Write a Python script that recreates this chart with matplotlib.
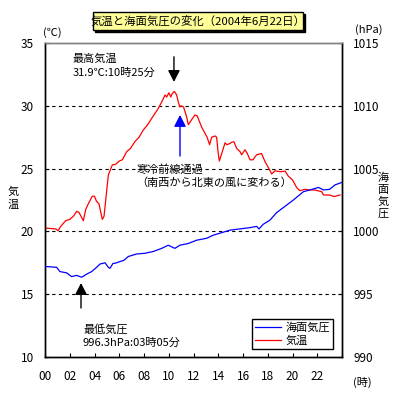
import matplotlib
matplotlib.use("Agg")
import matplotlib.pyplot as plt
from matplotlib.patches import Rectangle

plt.rcParams["font.family"] = ["Noto Sans CJK JP", "DejaVu Sans"]
plt.rcParams["font.size"] = 8

# hourly readings (hour of day, value)
temp_hours = [0.0, 0.2, 0.86, 1.05, 1.27, 1.67, 2.0, 2.29, 2.56, 2.75, 3.1, 3.29, 3.5, 3.82,
              4.0, 4.16, 4.36, 4.63, 4.77, 4.96, 5.12, 5.44, 5.71, 6.0, 6.25, 6.6, 6.9, 7.27,
              7.6, 7.94, 8.3, 8.62, 9.16, 9.43, 9.7, 9.83, 10.02, 10.16, 10.3, 10.45, 10.64,
              10.77, 10.9, 11.0, 11.2, 11.45, 11.58, 11.85, 12.12, 12.3, 12.66, 13.1, 13.3,
              13.47, 13.74, 13.87, 14.0, 14.09, 14.28, 14.55, 14.7, 14.95, 15.1, 15.27, 15.49,
              15.76, 15.89, 16.16, 16.35, 16.57, 16.8, 17.1, 17.5, 17.78, 18.13, 18.32, 18.59,
              19.0, 19.4, 19.66, 20.0, 20.33, 20.6, 21.0, 21.4, 21.8, 22.36, 22.5, 23.0, 23.35,
              23.84]
temp_values = [20.25, 20.25, 20.2, 20.05, 20.4, 20.85, 20.96, 21.2, 21.6, 21.5, 20.85, 21.75,
               22.2, 22.8, 22.8, 22.4, 22.2, 20.96, 21.2, 23.0, 24.5, 25.3, 25.34, 25.6, 25.7,
               26.35, 26.6, 27.15, 27.5, 28.07, 28.5, 29.0, 29.8, 30.3, 30.86, 30.7, 31.04, 30.7,
               31.0, 31.15, 30.86, 30.3, 29.9, 30.0, 29.9, 29.1, 28.5, 28.9, 29.27, 29.2, 28.3,
               27.5, 26.9, 27.5, 27.6, 27.5, 26.2, 25.6, 26.2, 27.06, 26.9, 27.0, 27.1, 27.14,
               26.6, 26.35, 26.1, 26.5, 26.2, 25.7, 25.7, 26.1, 26.2, 25.55, 24.94, 24.57, 24.83,
               24.75, 24.8, 24.4, 24.1, 23.5, 23.24, 23.35, 23.3, 23.3, 23.16, 22.9, 22.9, 22.77,
               22.9]

pres_hours = [0.0, 0.27, 0.94, 1.21, 1.75, 2.15, 2.56, 2.96, 3.37, 3.77, 4.17, 4.44, 4.85,
              5.12, 5.25, 5.5, 5.66, 6.06, 6.38, 6.73, 7.4, 8.08, 8.75, 9.43, 9.96, 10.5, 10.9,
              11.58, 12.26, 13.06, 13.6, 14.28, 14.95, 15.76, 16.57, 17.1, 17.3, 17.64, 18.18,
              18.72, 19.4, 20.07, 20.88, 21.4, 22.1, 22.5, 23.0, 23.43, 23.98]
pres_values = [997.2, 997.19, 997.14, 996.8, 996.7, 996.4, 996.5, 996.35, 996.6, 996.8, 997.14,
               997.4, 997.5, 997.14, 997.06, 997.46, 997.46, 997.6, 997.7, 998.0, 998.2, 998.26,
               998.4, 998.65, 998.9, 998.65, 998.9, 999.04, 999.3, 999.45, 999.7, 999.9, 1000.1,
               1000.2, 1000.3, 1000.4, 1000.2, 1000.57, 1000.9, 1001.5, 1002.0, 1002.5, 1003.16,
               1003.3, 1003.5, 1003.3, 1003.35, 1003.7, 1003.9]

x_ticks = list(range(0, 25, 2))
x_tick_labels = [f"{h:02d}" for h in range(0, 24, 2)] + [""]
temp_ticks = [10, 15, 20, 25, 30, 35]
pres_ticks = [990, 995, 1000, 1005, 1010, 1015]

W = H = 399


def px(x, y):
    # pixel position -> figure fraction
    return x / W, 1 - y / H


fig = plt.figure(figsize=(3.99, 3.99), dpi=100)
ax = fig.add_axes([45 / W, 42 / H, 297 / W, 314 / H])
ax2 = ax.twinx()

# dashed grid lines between the frame edges
for t in temp_ticks[1:-1]:
    ax.axhline(t, color="k", lw=0.8, ls=(0, (3, 3)), zorder=1)

l_temp, = ax.plot(temp_hours, temp_values, color="red", lw=0.9, zorder=3)
l_pres, = ax2.plot(pres_hours, pres_values, color="blue", lw=0.9, zorder=3)

ax.set_xlim(0, 24)
ax.set_ylim(10, 35)
ax2.set_ylim(990, 1015)
ax.set_xticks(x_ticks)
ax.set_xticklabels(x_tick_labels)
ax.set_yticks(temp_ticks)
ax2.set_yticks(pres_ticks)
ax.tick_params(axis="x", direction="in", length=3, pad=9, labelsize=8.5)
ax.tick_params(axis="y", direction="in", length=3, pad=8, labelsize=8.5)
ax2.tick_params(axis="y", direction="in", length=3, pad=8, labelsize=8.5)

for a in (ax, ax2):
    for side in ("left", "right", "bottom"):
        a.spines[side].set_color("k")
        a.spines[side].set_linewidth(1)
    a.spines["top"].set_color("#808080")
    a.spines["top"].set_linewidth(1)

# arrows
arrow_kw = dict(arrowstyle="-|>,head_width=0.36,head_length=0.7", lw=1,
                shrinkA=0, shrinkB=0, mutation_scale=10)
ax.annotate("", xy=(10.42, 31.9), xytext=(10.42, 33.9), arrowprops=dict(color="k", **arrow_kw))
ax.annotate("", xy=(10.91, 29.27), xytext=(10.91, 26.0), arrowprops=dict(color="blue", **arrow_kw))
ax.annotate("", xy=(2.91, 15.89), xytext=(2.91, 13.9), arrowprops=dict(color="k", **arrow_kw))

ax.text(2.26, 33.2, "最高気温\n31.9℃:10時25分", va="center", ha="left", fontsize=8, linespacing=1.55)
ax.text(7.4, 24.4, "寒冷前線通過\n（南西から北東の風に変わる）", va="center", ha="left", fontsize=8,
        linespacing=1.35)
ax.text(3.07, 11.65, "最低気圧\n996.3hPa:03時05分", va="center", ha="left", fontsize=8,
        linespacing=1.35)

leg = ax.legend([l_pres, l_temp], ["海面気圧", "気温"], loc="lower right",
                bbox_to_anchor=(0.97, 0.025), fancybox=False, framealpha=1, edgecolor="k",
                fontsize=8, handlelength=2.3, borderpad=0.3, labelspacing=0.25,
                handletextpad=0.4, borderaxespad=0)
leg.get_frame().set_linewidth(1)
leg.set_zorder(5)

# title box with shadow
fig.patches.append(Rectangle(px(95, 32), 210 / W, 18 / H, transform=fig.transFigure,
                             facecolor="k", edgecolor="k", zorder=1))
fig.patches.append(Rectangle(px(93, 30), 210 / W, 18 / H, transform=fig.transFigure,
                             facecolor="#FFFF99", edgecolor="k", lw=1, zorder=2))
fig.text(*px(198, 21), "気温と海面気圧の変化（2004年6月22日）", ha="center", va="center", fontsize=8.2)

# unit and axis labels
fig.text(*px(52, 33), "(℃)", ha="center", va="center", fontsize=8)
fig.text(*px(369, 30), "(hPa)", ha="center", va="center", fontsize=8)
fig.text(*px(362, 382), "(時)", ha="center", va="center", fontsize=8)
for i, ch in enumerate("気温"):
    fig.text(*px(13, 192 + 13 * i), ch, ha="center", va="center", fontsize=8)
for i, ch in enumerate("海面気圧"):
    fig.text(*px(383, 178 + 12 * i), ch, ha="center", va="center", fontsize=8)

fig.savefig("out.png", dpi=100)
